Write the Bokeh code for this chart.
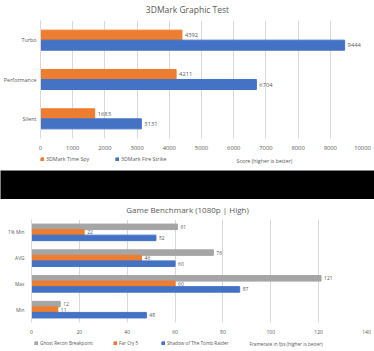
from bokeh.plotting import figure
from bokeh.models import ColumnDataSource, Range1d, FactorRange, Label, Legend, LegendItem, SingleIntervalTicker
from bokeh.transform import dodge
from bokeh.core.properties import value
from bokeh.embed import file_html
from bokeh.resources import INLINE

# ---- data: 3DMark ----
modes = ["Turbo", "Performance", "Silent"]
time_spy = [4392, 4211, 1683]
fire_strike = [9444, 6704, 3131]
bench_names = ["3DMark Time Spy", "3DMark Fire Strike"]

# ---- data: games ----
stats = ["1% Min", "AVG", "Max", "Min"]
ghost_recon = [61, 76, 121, 12]
far_cry = [22, 46, 60, 11]
tomb_raider = [52, 60, 87, 48]
game_names = ["Ghost Recon Breakpoint", "Far Cry 5", "Shadow of The Tomb Raider"]

FONT = "Open Sans"
TXT = "#595959"
ORANGE = "#ED7D31"
BLUE = "#4472C4"
GRAY = "#A5A5A5"
GRID = "#D9D9D9"


def base_style(p, tick_size, cat_size, cat_standoff):
    p.xgrid.grid_line_color = GRID
    p.ygrid.grid_line_color = None
    p.outline_line_color = None
    p.xaxis.axis_line_color = None
    p.xaxis.major_tick_line_color = None
    p.xaxis.minor_tick_line_color = None
    p.xaxis.major_tick_out = 0
    p.xaxis.major_label_standoff = 3
    p.xaxis.major_label_text_font_size = tick_size
    p.xaxis.major_label_text_font = FONT
    p.xaxis.major_label_text_color = TXT
    p.yaxis.axis_line_color = GRID
    p.yaxis.major_tick_line_color = None
    p.yaxis.minor_tick_line_color = None
    p.yaxis.major_tick_out = 0
    p.yaxis.major_label_standoff = cat_standoff
    p.yaxis.major_label_text_font_size = cat_size
    p.yaxis.major_label_text_font = FONT
    p.yaxis.major_label_text_color = TXT


def blank(height, color="white"):
    f = figure(width=374, height=height, output_backend="svg", toolbar_location=None,
               x_axis_location=None, y_axis_location=None, min_border=0,
               x_range=Range1d(0, 1), y_range=Range1d(0, 1))
    f.grid.grid_line_color = None
    f.outline_line_color = None
    f.background_fill_color = color
    f.border_fill_color = color
    return f


def header(height, text, y_mid, size):
    f = blank(height)
    f.add_layout(Label(x=187, y=y_mid, x_units="screen", y_units="screen", text=text,
                       text_align="center", text_baseline="middle", text_font=FONT,
                       text_font_size=size, text_color=TXT))
    return f


def footer(height, src, cols, names, colors, xs, y_mid, size, axis_title, title_x):
    f = blank(height)
    for col, name, c, x in zip(cols, names, colors, xs):
        # swatch source: the series itself, lying outside this strip's ranges
        r = f.hbar(y=col, right=col, left=col, height=1, color=c, source=src)
        leg = Legend(items=[LegendItem(label=name, renderers=[r])], location=(x, y_mid - 3),
                     orientation="horizontal", glyph_width=4, glyph_height=4,
                     label_height=6, label_width=10, padding=0, margin=0, spacing=0,
                     label_standoff=2, border_line_color=None, background_fill_alpha=0,
                     label_text_font_size=size, label_text_font=FONT, label_text_color=TXT)
        f.add_layout(leg)
    f.add_layout(Label(x=title_x, y=y_mid, x_units="screen", y_units="screen", text=axis_title,
                       text_align="left", text_baseline="middle", text_font=FONT,
                       text_font_size=size, text_color=TXT))
    return f


# ================= top chart =================
head1 = header(20, "3DMark Graphic Test", 11.5, "8.5px")

p1 = figure(width=374, height=132, output_backend="svg", toolbar_location=None,
            x_range=Range1d(0, 10000), y_range=FactorRange(*reversed(modes)),
            min_border_left=39, min_border_right=12, min_border_top=0, min_border_bottom=14)
base_style(p1, "5.8px", "5.4px", 4)
p1.xaxis.ticker = SingleIntervalTicker(interval=1000)

src1 = ColumnDataSource(dict(mode=modes, ts=time_spy, fs=fire_strike,
                             ts_l=[str(v) for v in time_spy], fs_l=[str(v) for v in fire_strike]))
bh1 = 0.255
p1.hbar(y=dodge("mode", bh1 / 2, range=p1.y_range), right="ts", left=0, height=bh1,
        color=ORANGE, source=src1)
p1.hbar(y=dodge("mode", -bh1 / 2, range=p1.y_range), right="fs", left=0, height=bh1,
        color=BLUE, source=src1)
for col, lab, off in (("ts", "ts_l", bh1 / 2), ("fs", "fs_l", -bh1 / 2)):
    p1.text(x=col, y=dodge("mode", off, range=p1.y_range), text=lab, source=src1,
            x_offset=3, text_baseline="middle", text_align="left",
            text_font=value(FONT), text_font_size="5.8px", text_color=TXT)

foot1 = footer(18, src1, ["ts", "fs"], bench_names, [ORANGE, BLUE], [40, 115], 10, "5.3px",
               "Score (higher is better)", 236)

# ================= black band =================
band = blank(29, "black")

# ================= bottom chart =================
head2 = header(20, "Game Benchmark (1080p | High)", 10, "8px")

p2 = figure(width=374, height=117, output_backend="svg", toolbar_location=None,
            x_range=Range1d(0, 140), y_range=FactorRange(*reversed(stats)),
            min_border_left=31, min_border_right=8, min_border_top=0, min_border_bottom=11)
base_style(p2, "5px", "4.8px", 7)
p2.xaxis.ticker = SingleIntervalTicker(interval=20)

src2 = ColumnDataSource(dict(stat=stats, gr=ghost_recon, fc=far_cry, tr=tomb_raider,
                             gr_l=[str(v) for v in ghost_recon], fc_l=[str(v) for v in far_cry],
                             tr_l=[str(v) for v in tomb_raider]))
bh2 = 0.215
for col, lab, off, c in (("gr", "gr_l", bh2, GRAY), ("fc", "fc_l", 0, ORANGE), ("tr", "tr_l", -bh2, BLUE)):
    p2.hbar(y=dodge("stat", off, range=p2.y_range), right=col, left=0, height=bh2,
            color=c, source=src2)
    p2.text(x=col, y=dodge("stat", off, range=p2.y_range), text=lab, source=src2,
            x_offset=3, text_baseline="middle", text_align="left",
            text_font=value(FONT), text_font_size="5px", text_color=TXT)

foot2 = footer(15, src2, ["gr", "fc", "tr"], game_names, [GRAY, ORANGE, BLUE], [34, 113, 161], 8,
               "4.7px", "Framerate in fps (higher is better)", 249)

open("out.html", "w").write(file_html([head1, p1, foot1, band, head2, p2, foot2], INLINE))
